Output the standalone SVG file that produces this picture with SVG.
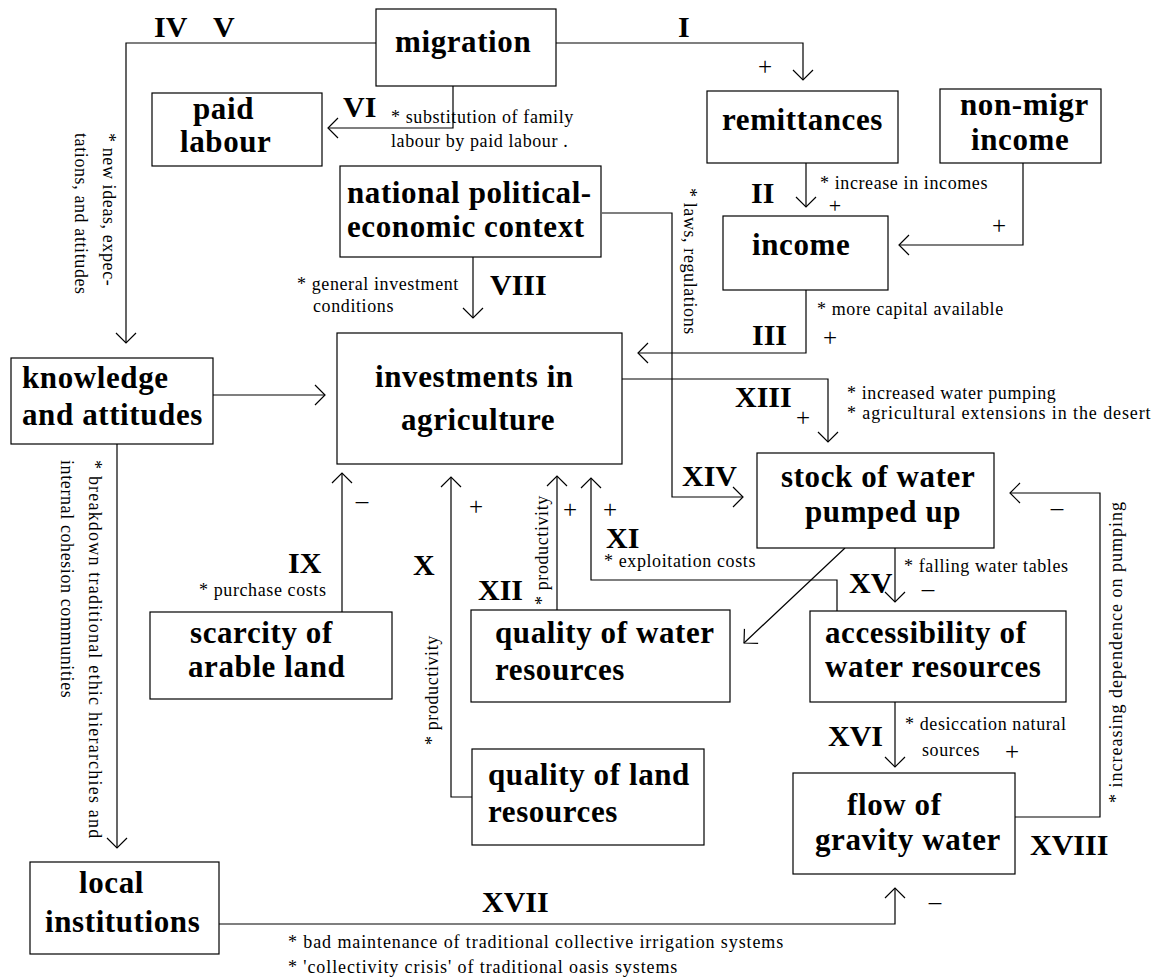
<svg xmlns="http://www.w3.org/2000/svg" width="1156" height="980" viewBox="0 0 1156 980" font-family="Liberation Serif, Times New Roman, serif">
<style>
.box{fill:#fff;stroke:#000;stroke-width:1.2}
.nt{font-family:'Liberation Serif','Times New Roman',serif;font-weight:bold;font-size:31px;letter-spacing:0.6px;fill:#000}
.rn{font-family:'Liberation Serif','Times New Roman',serif;font-weight:bold;font-size:30px;fill:#000}
.an{font-family:'Liberation Serif','Times New Roman',serif;font-size:18px;letter-spacing:0.6px;fill:#000}
.wide{letter-spacing:0.9px}
.sg{font-family:'Liberation Serif','Times New Roman',serif;font-size:25px;fill:#000;text-anchor:middle}
.ln{fill:none;stroke:#000;stroke-width:1.2}
</style>
<defs>
<marker id="ar" viewBox="0 0 20 24" markerWidth="20" markerHeight="24" refX="11" refY="12" orient="auto" markerUnits="userSpaceOnUse">
<path d="M1,2 L11,12 L1,22" fill="none" stroke="#000" stroke-width="1.2"/>
</marker>
</defs>
<rect width="1156" height="980" fill="#fff"/>
<g id="connectors">
<polyline class="ln" points="556,43 803,43 803,80" marker-end="url(#ar)"/>
<polyline class="ln" points="376,43 126,43 126,343" marker-end="url(#ar)"/>
<polyline class="ln" points="453,86 453,128 328,128" marker-end="url(#ar)"/>
<polyline class="ln" points="806,163 806,207" marker-end="url(#ar)"/>
<polyline class="ln" points="1023,163 1023,245 899,245" marker-end="url(#ar)"/>
<polyline class="ln" points="806,290 806,353 638,353" marker-end="url(#ar)"/>
<polyline class="ln" points="622,379 828,379 828,442" marker-end="url(#ar)"/>
<polyline class="ln" points="473,257 473,318" marker-end="url(#ar)"/>
<polyline class="ln" points="602,213 672,213 672,497 743,497" marker-end="url(#ar)"/>
<polyline class="ln" points="213,395 325,395" marker-end="url(#ar)"/>
<polyline class="ln" points="117,444 117,848" marker-end="url(#ar)"/>
<polyline class="ln" points="342,612 342,473" marker-end="url(#ar)"/>
<polyline class="ln" points="472,797 451,797 451,477" marker-end="url(#ar)"/>
<polyline class="ln" points="557,610 557,476" marker-end="url(#ar)"/>
<polyline class="ln" points="837,611 837,580 591,580 591,478" marker-end="url(#ar)"/>
<polyline class="ln" points="845,548 744,643" marker-end="url(#ar)"/>
<polyline class="ln" points="895,548 895,602" marker-end="url(#ar)"/>
<polyline class="ln" points="895,702 895,767" marker-end="url(#ar)"/>
<polyline class="ln" points="1015,817 1100,817 1100,493 1010,493" marker-end="url(#ar)"/>
<polyline class="ln" points="219,924 895,924 895,888" marker-end="url(#ar)"/>
</g>
<g id="labels">
<text class="rn" x="678" y="37">I</text>
<text class="rn" x="154" y="37">IV</text>
<text class="rn" x="213" y="37">V</text>
<text class="rn" x="343" y="117">VI</text>
<text class="rn" x="751" y="203">II</text>
<text class="rn" x="752" y="345">III</text>
<text class="rn" x="490" y="295">VIII</text>
<text class="rn" x="735" y="407">XIII</text>
<text class="rn" x="682" y="486">XIV</text>
<text class="rn" x="288" y="573">IX</text>
<text class="rn" x="413" y="575">X</text>
<text class="rn" x="478" y="600">XII</text>
<text class="rn" x="606" y="548">XI</text>
<text class="sg" x="765" y="75">+</text>
<text class="sg" x="835" y="213" style="font-size:22px">+</text>
<text class="sg" x="999" y="234">+</text>
<text class="sg" x="830" y="346">+</text>
<text class="sg" x="803" y="426">+</text>
<text class="sg" x="476" y="515">+</text>
<text class="sg" x="570" y="518">+</text>
<text class="sg" x="610" y="518">+</text>
<text class="sg" x="1012" y="760">+</text>
<text class="sg" x="362" y="509">–</text>
<text class="sg" x="928" y="597">–</text>
<text class="sg" x="1057" y="516">–</text>
<text class="sg" x="935" y="910">–</text>
<text class="rn" x="849" y="593">XV</text>
<text class="rn" x="828" y="746">XVI</text>
<text class="rn" x="482" y="912">XVII</text>
<text class="rn" x="1030" y="855">XVIII</text>
<text class="an" x="391" y="123">* substitution of family</text>
<text class="an" x="391" y="147">labour by paid labour .</text>
<text class="an" x="820" y="189">* increase in incomes</text>
<text class="an" x="817" y="315">* more capital available</text>
<text class="an" x="297" y="290">* general investment</text>
<text class="an" x="313" y="312">conditions</text>
<text class="an" x="847" y="399">* increased water pumping</text>
<text class="an wide" x="847" y="419">* agricultural extensions in the desert</text>
<text class="an" x="199" y="596">* purchase costs</text>
<text class="an" x="604" y="567">* exploitation costs</text>
<text class="an" x="904" y="572">* falling water tables</text>
<text class="an" x="905" y="730">* desiccation natural</text>
<text class="an" x="922" y="756">sources</text>
<text class="an wide" x="288" y="948">* bad maintenance of traditional collective irrigation systems</text>
<text class="an wide" x="288" y="973">* 'collectivity crisis' of traditional oasis systems</text>
<text class="an" transform="translate(103,133) rotate(90)">* new ideas, expec-</text>
<text class="an" transform="translate(75,133) rotate(90)">tations, and attitudes</text>
<text class="an" style="letter-spacing:1.2px" transform="translate(89,460) rotate(90)">* breakdown traditional ethic hierarchies and</text>
<text class="an" transform="translate(61,460) rotate(90)">internal cohesion communities</text>
<text class="an" transform="translate(684,188) rotate(90)">* laws, regulations</text>
<text class="an" transform="translate(438,745) rotate(-90)">* productivity</text>
<text class="an" transform="translate(548,605) rotate(-90)">* productivity</text>
<text class="an" style="letter-spacing:1px" transform="translate(1122,803) rotate(-90)">* increasing dependence on pumping</text>
</g>
<g id="migration"><rect class="box" x="376" y="9" width="180" height="77"/><text class="nt" x="395" y="52">migration</text></g>
<g id="paid-labour"><rect class="box" x="152" y="93" width="170" height="73"/><text class="nt" x="193" y="119">paid</text><text class="nt" x="180" y="152">labour</text></g>
<g id="remittances"><rect class="box" x="707" y="91" width="191" height="72"/><text class="nt" x="722" y="130">remittances</text></g>
<g id="non-migr-income"><rect class="box" x="940" y="89" width="161" height="74"/><text class="nt" x="960" y="115">non-migr</text><text class="nt" x="971" y="150">income</text></g>
<g id="income"><rect class="box" x="723" y="216" width="165" height="74"/><text class="nt" x="752" y="255">income</text></g>
<g id="national-context"><rect class="box" x="340" y="166" width="261" height="91"/><text class="nt" x="347" y="203">national political-</text><text class="nt" x="347" y="237">economic context</text></g>
<g id="knowledge"><rect class="box" x="11" y="358" width="202" height="86"/><text class="nt" x="22" y="388">knowledge</text><text class="nt" x="22" y="425">and attitudes</text></g>
<g id="investments"><rect class="box" x="337" y="333" width="285" height="131"/><text class="nt" x="375" y="387">investments in</text><text class="nt" x="401" y="430">agriculture</text></g>
<g id="stock-water"><rect class="box" x="757" y="453" width="237" height="95"/><text class="nt" x="781" y="487">stock of water</text><text class="nt" x="805" y="522">pumped up</text></g>
<g id="scarcity"><rect class="box" x="150" y="612" width="242" height="87"/><text class="nt" x="190" y="643">scarcity of</text><text class="nt" x="188" y="677">arable land</text></g>
<g id="quality-water"><rect class="box" x="471" y="610" width="259" height="92"/><text class="nt" x="495" y="643">quality of water</text><text class="nt" x="495" y="680">resources</text></g>
<g id="accessibility"><rect class="box" x="810" y="611" width="256" height="91"/><text class="nt" x="825" y="643">accessibility of</text><text class="nt" x="825" y="677">water resources</text></g>
<g id="quality-land"><rect class="box" x="472" y="749" width="232" height="96"/><text class="nt" x="488" y="785">quality of land</text><text class="nt" x="488" y="822">resources</text></g>
<g id="flow-gravity"><rect class="box" x="793" y="773" width="222" height="101"/><text class="nt" x="847" y="815">flow of</text><text class="nt" x="815" y="850">gravity water</text></g>
<g id="local-institutions"><rect class="box" x="30" y="862" width="189" height="92"/><text class="nt" x="79" y="893">local</text><text class="nt" x="45" y="932">institutions</text></g>
</svg>
